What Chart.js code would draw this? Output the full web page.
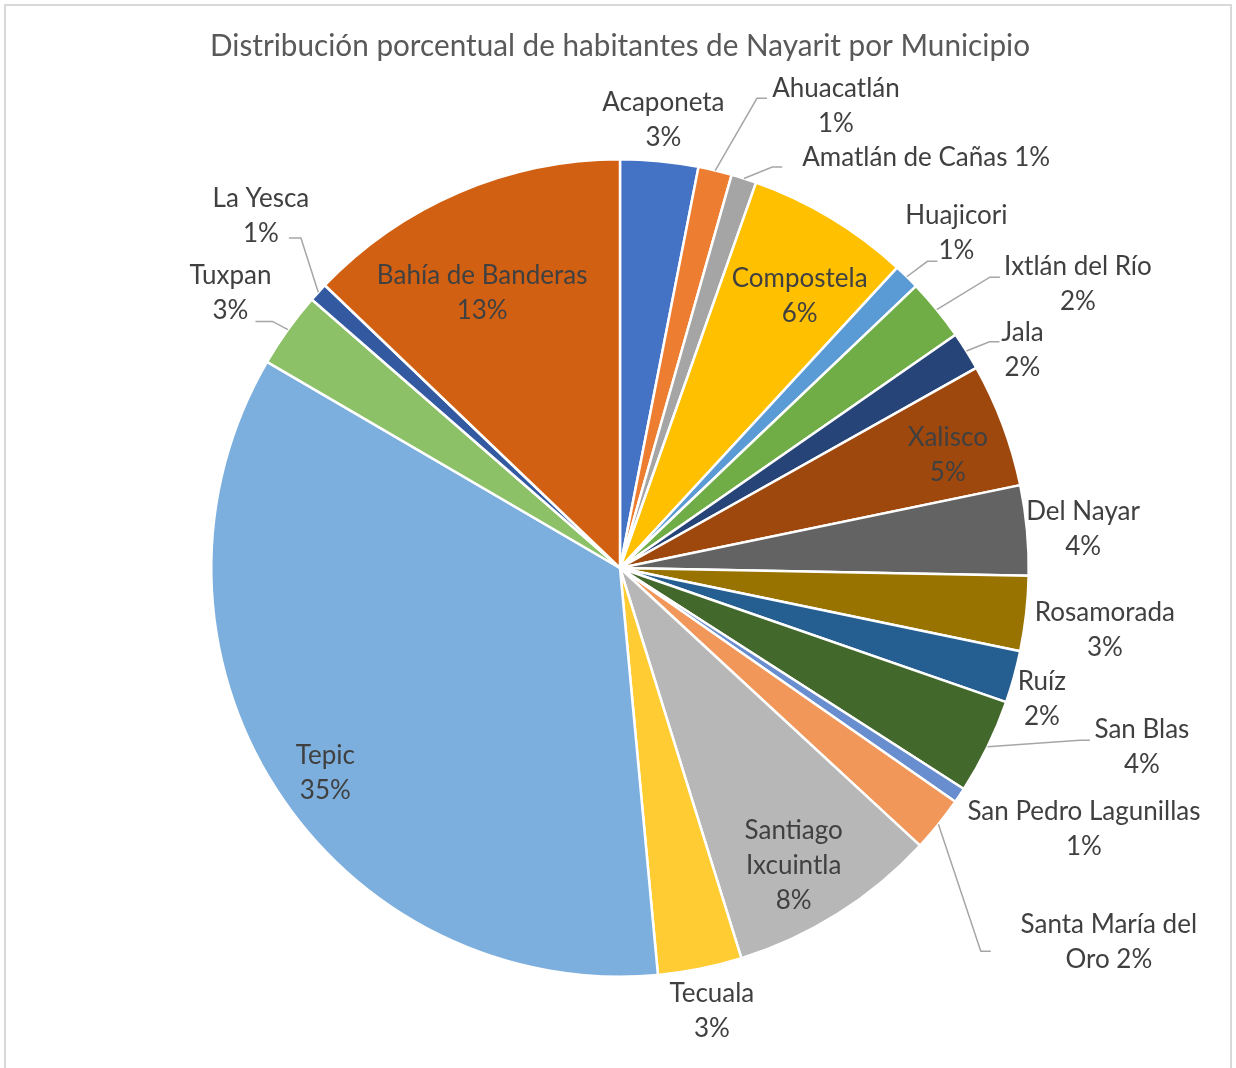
<!DOCTYPE html>
<html lang="es">
<head>
<meta charset="utf-8">
<title>Habitantes de Nayarit por municipio</title>
<script src="https://cdn.jsdelivr.net/npm/chart.js@4.4.1/dist/chart.umd.min.js"></script>
<style>
  html, body { margin: 0; padding: 0; background: #fff; overflow: hidden; }
  #marco { position: absolute; left: 4px; top: 4px; width: 1228px; height: 1100px; border: 2px solid #d9d9d9; box-sizing: border-box; }
  #grafica { position: absolute; left: 0; top: 0; }
</style>
</head>
<body>
<div id="marco"></div>
<canvas id="grafica" width="1236" height="1068"></canvas>
<script>
const titulo = 'Distribución porcentual de habitantes de Nayarit por Municipio';

const municipios = [
  'Acaponeta', 'Ahuacatlán', 'Amatlán de Cañas', 'Compostela', 'Huajicori',
  'Ixtlán del Río', 'Jala', 'Xalisco', 'Del Nayar', 'Rosamorada',
  'Ruíz', 'San Blas', 'San Pedro Lagunillas', 'Santa María del Oro', 'Santiago Ixcuintla',
  'Tecuala', 'Tepic', 'Tuxpan', 'La Yesca', 'Bahía de Banderas'
];

const habitantes = [
  36400, 15700, 11800, 76400, 12200,
  28900, 18000, 57900, 42000, 35100,
  24300, 44600, 7100, 25900, 98400,
  39300, 412800, 35400, 8900, 151900
];

const colores = [
  '#4472C4', '#ED7D31', '#A5A5A5', '#FFC000', '#5B9BD5',
  '#70AD47', '#264478', '#9E480E', '#636363', '#997300',
  '#255E91', '#43682B', '#698ED0', '#F1975A', '#B7B7B7',
  '#FFCD33', '#7CAFDD', '#8CC168', '#335AA1', '#D26012'
];

const FAMILIA = 'Lato, "Liberation Sans", sans-serif';
const TAM_ETIQ = 26;
const ALTO_LINEA = 35;

// r: distancia al centro en radios, da: giro sobre el ángulo medio de la rebanada (grados)
// ancho: ancho máximo de línea, guia: fin de la línea guía respecto al centro de la etiqueta
const etiquetas = {
  'Acaponeta':            { r: 1.10, da: 0 },
  'Ahuacatlán':           { r: 1.247, da: 11.6, guia: [-69, -8] },
  'Amatlán de Cañas':     { r: 1.252, da: 19.1, ancho: 400, guia: [-144, 9] },
  'Compostela':           { r: 0.797, da: 2.4 },
  'Huajicori':            { r: 1.161, da: 0.6, guia: [-19, 28] },
  'Ixtlán del Río':       { r: 1.318, da: 7.4, guia: [-78, -7] },
  'Jala':                 { r: 1.12, da: 3.6, guia: [-23, -8] },
  'Xalisco':              { r: 0.848, da: 1.55 },
  'Del Nayar':            { r: 1.137, da: 0.5 },
  'Rosamorada':           { r: 1.196, da: 0.9 },
  'Ruíz':                 { r: 1.081, da: 1.8 },
  'San Blas':             { r: 1.35, da: -7.0, guia: [-52, -7] },
  'San Pedro Lagunillas': { r: 1.303, da: -4.4 },
  'Santa María del Oro':  { r: 1.506, da: -1.4, ancho: 205, guia: [-118, 9] },
  'Santiago Ixcuintla':   { r: 0.843, da: 2.0, ancho: 125 },
  'Tecuala':              { r: 1.108, da: -0.4 },
  'Tepic':                { r: 0.878, da: -2.3 },
  'Tuxpan':               { r: 1.166, da: -0.5, guia: [25, 28], tramo: 17 },
  'La Yesca':             { r: 1.23, da: 2.0, guia: [28, 22], tramo: 12 },
  'Bahía de Banderas':    { r: 0.753, da: -3.5 }
};

function partir(ctx, texto, ancho) {
  const palabras = texto.split(' ');
  const lineas = [];
  let actual = '';
  palabras.forEach(p => {
    const prueba = actual ? actual + ' ' + p : p;
    if (actual && ctx.measureText(prueba).width > ancho) {
      lineas.push(actual);
      actual = p;
    } else {
      actual = prueba;
    }
  });
  if (actual) lineas.push(actual);
  return lineas;
}

// Etiquetas de categoría y porcentaje, con líneas guía para las rebanadas pequeñas
const etiquetasPastel = {
  id: 'etiquetasPastel',
  afterDatasetsDraw(chart) {
    const ctx = chart.ctx;
    const meta = chart.getDatasetMeta(0);
    const total = habitantes.reduce((a, b) => a + b, 0);
    ctx.save();
    ctx.font = TAM_ETIQ + 'px ' + FAMILIA;
    ctx.textAlign = 'center';
    ctx.textBaseline = 'middle';
    meta.data.forEach((arco, i) => {
      const { x, y, startAngle, endAngle, outerRadius } =
        arco.getProps(['x', 'y', 'startAngle', 'endAngle', 'outerRadius'], true);
      const nombre = municipios[i];
      const conf = etiquetas[nombre];
      const pct = Math.round(habitantes[i] / total * 100) + '%';
      const medio = (startAngle + endAngle) / 2;
      const ang = medio + conf.da * Math.PI / 180;
      const cx = x + Math.cos(ang) * outerRadius * conf.r;
      const cy = y + Math.sin(ang) * outerRadius * conf.r;

      if (conf.guia) {
        const x0 = x + Math.cos(medio) * outerRadius;
        const y0 = y + Math.sin(medio) * outerRadius;
        const x2 = cx + conf.guia[0];
        const y2 = cy + conf.guia[1];
        const x1 = x2 + (x2 > x0 ? -1 : 1) * (conf.tramo || 10);
        ctx.beginPath();
        ctx.moveTo(x0, y0);
        ctx.lineTo(x1, y2);
        ctx.lineTo(x2, y2);
        ctx.strokeStyle = '#a6a6a6';
        ctx.lineWidth = 1.5;
        ctx.stroke();
      }

      const ancho = conf.ancho || ctx.measureText(nombre).width + 1;
      const lineas = partir(ctx, nombre + ' ' + pct, ancho);
      ctx.fillStyle = '#404040';
      lineas.forEach((t, k) => {
        ctx.fillText(t, cx, cy + (k - (lineas.length - 1) / 2) * ALTO_LINEA);
      });
    });
    ctx.restore();
  }
};

new Chart(document.getElementById('grafica'), {
  type: 'pie',
  data: {
    labels: municipios,
    datasets: [{
      data: habitantes,
      backgroundColor: colores,
      borderColor: '#ffffff',
      borderWidth: 2.5
    }]
  },
  options: {
    responsive: false,
    animation: false,
    events: [],
    layout: { padding: { left: 210, right: 206, top: 0, bottom: 90 } },
    plugins: {
      legend: { display: false },
      tooltip: { enabled: false },
      title: {
        display: true,
        text: titulo,
        color: '#595959',
        font: { family: FAMILIA, size: 30.6, weight: 'normal' },
        padding: { top: 28, bottom: 93.3 }
      }
    }
  },
  plugins: [etiquetasPastel]
});
</script>
</body>
</html>
